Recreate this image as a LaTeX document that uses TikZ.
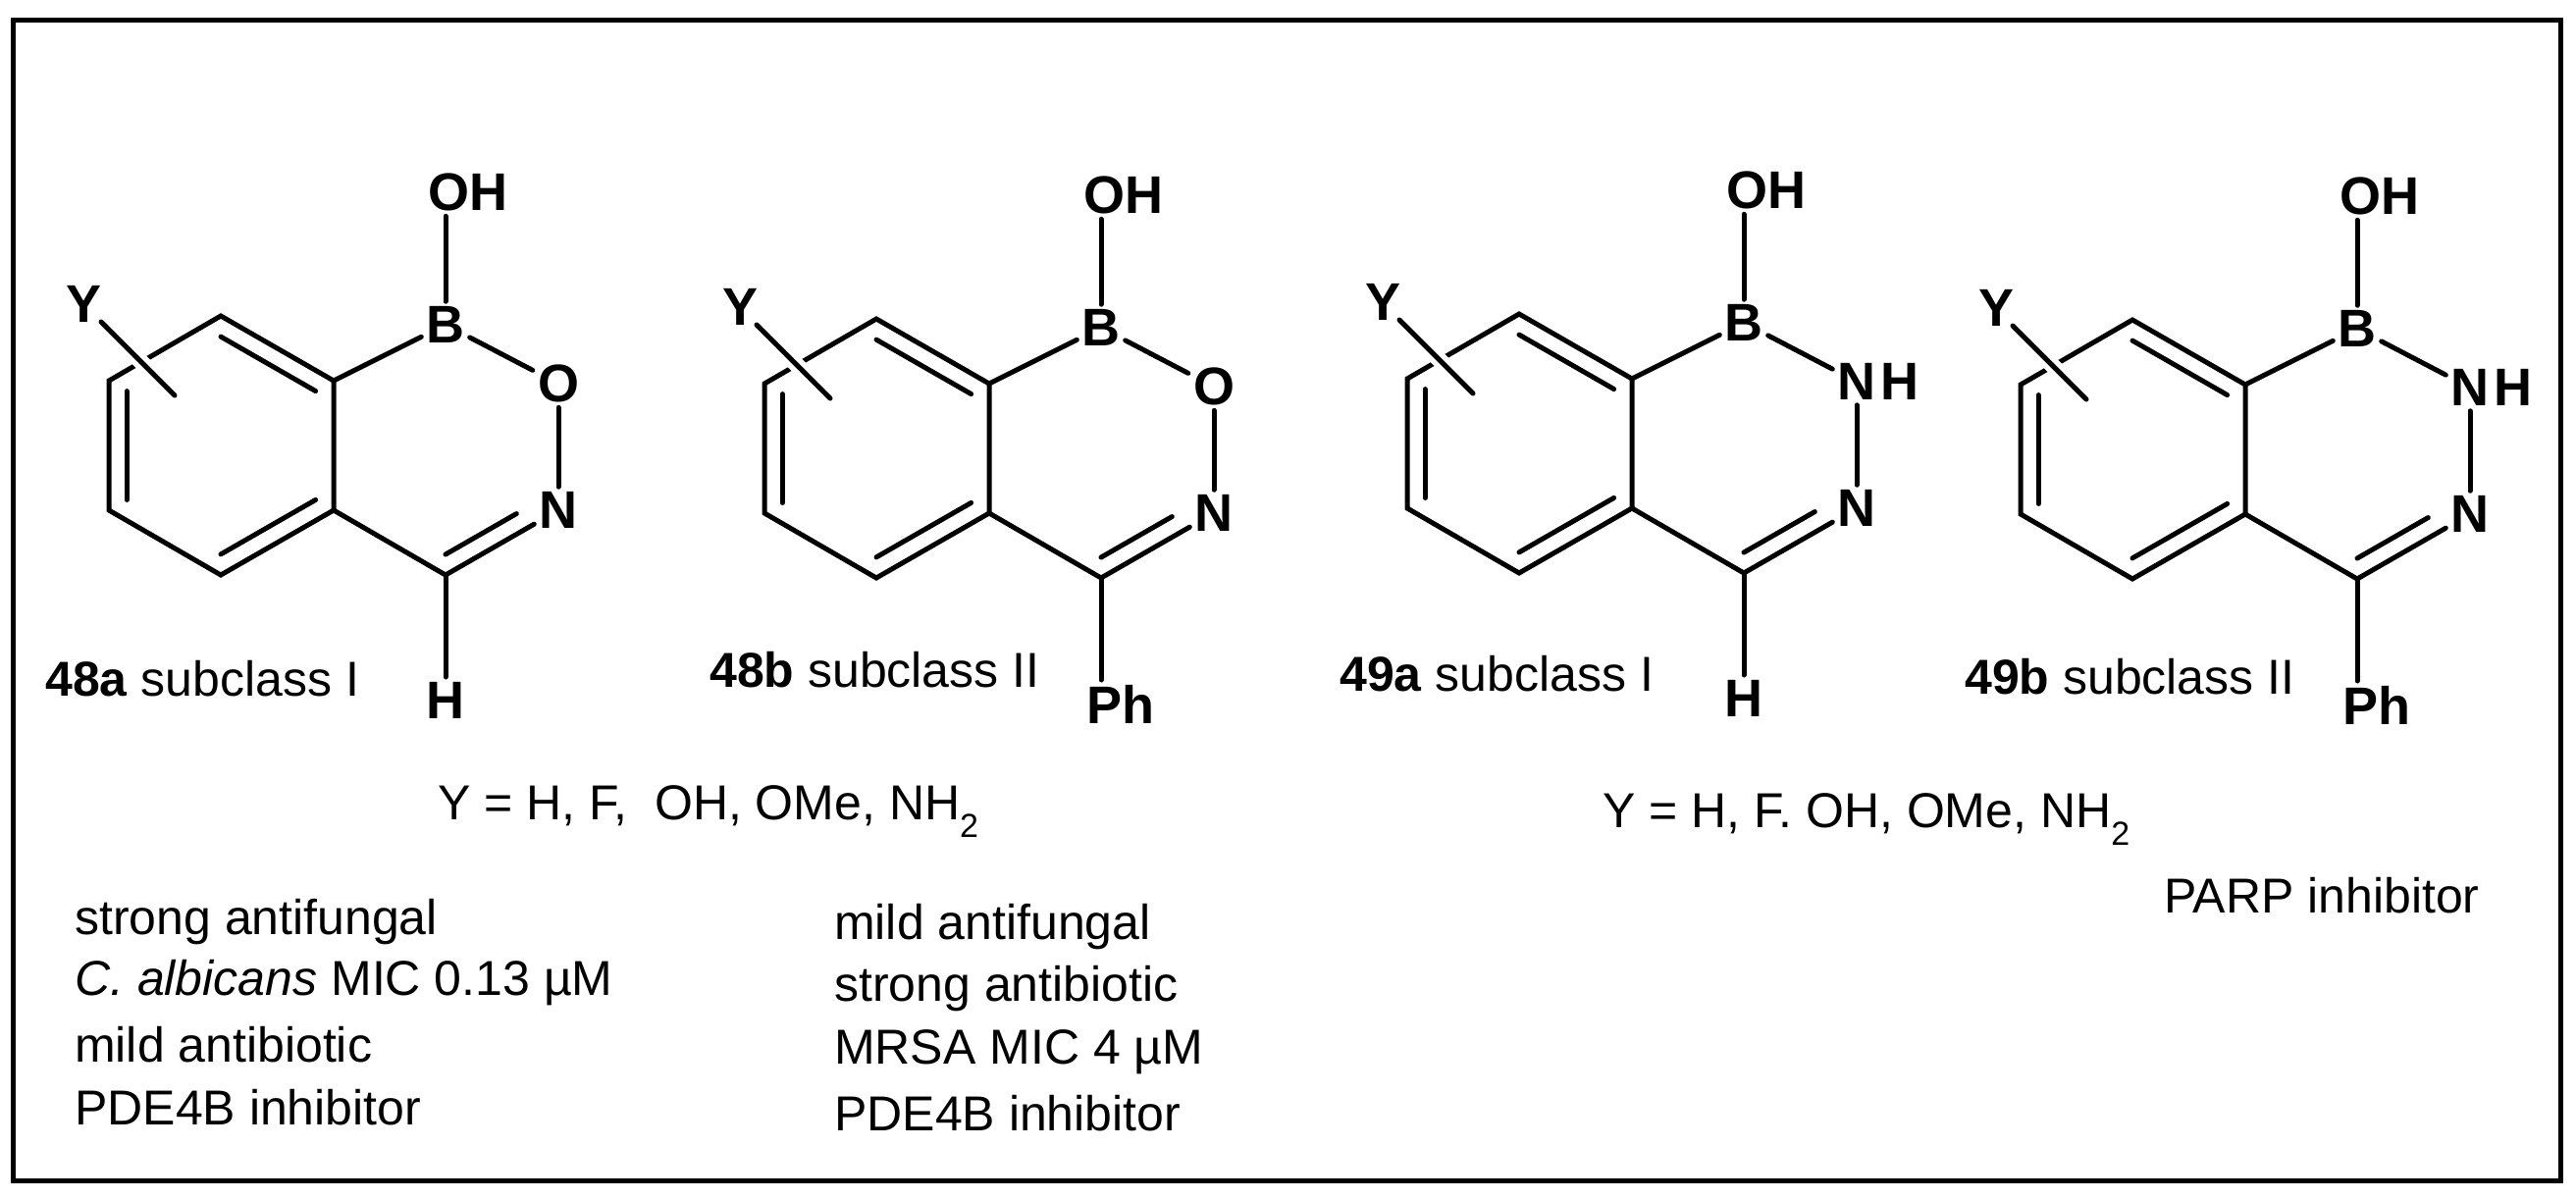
\documentclass[tikz,border=0pt]{standalone}
\usepackage{fontspec}
\setmainfont{Liberation Sans}
\usetikzlibrary{calc}
\tikzset{
  atom/.style={font=\fontsize{54}{62}\selectfont\bfseries, inner sep=5pt},
  lbl/.style={font=\fontsize{50}{60}\selectfont, anchor=west, inner sep=0pt},
  bond/.style={line width=5pt, line cap=round},
}
\newcommand\subtwo{\raisebox{-0.35em}{\fontsize{34}{40}\selectfont 2}}
\newcommand\mol[7]{%
\begin{scope}[shift={(#2,#3)}]
\coordinate (#1T) at (225,322);
\coordinate (#1FT) at (340,388);
\coordinate (#1FB) at (340,520);
\coordinate (#1Bt) at (225,586);
\coordinate (#1LB) at (111,520);
\coordinate (#1LT) at (111,388);
\coordinate (#1c) at (225,454);
\coordinate (#1h) at (454,455);
\coordinate (#1C) at (454,586);
\node[atom] (#1B) at (454,331) {B};
\node[atom] (#1OH) at (477,196) {OH};
\node[atom] (#1X) at (569,391) {#4};
\node[atom, anchor=west, inner xsep=0pt] (#1XH) at (#1X.east) {#5};
\node[atom] (#1N) at (569,520) {N};
\node[atom, anchor=north] (#1S) at (454+#6,690) {#7};
\node[atom] (#1Y) at (86,310) {Y};
\coordinate (#1y1) at (103,328);
\coordinate (#1y2) at (178,403);
\draw[bond] (#1T) -- (#1FT) -- (#1FB) -- (#1Bt) -- (#1LB) -- (#1LT) -- cycle;
\draw[bond] ($(#1c)!0.84!(#1T)$) -- ($(#1c)!0.84!(#1FT)$);
\draw[bond] ($(#1c)!0.84!(#1FB)$) -- ($(#1c)!0.84!(#1Bt)$);
\draw[bond] ($(#1c)!0.84!(#1LB)$) -- ($(#1c)!0.84!(#1LT)$);
\draw[bond] (#1FT) -- (#1B);
\draw[bond] (#1B) -- (#1X);
\draw[bond] (#1X) -- (#1N);
\draw[bond] (#1N) -- (#1C) -- (#1FB);
\draw[bond, shorten >=28pt] ($(#1h)!0.84!(#1C)$) -- ($(#1h)!0.84!(#1N)$);
\draw[bond] (#1B) -- (#1OH.south -| #1B);
\draw[bond] (#1C) -- (#1S.north -| #1C);
\draw[white, line width=16pt, shorten <=40pt, shorten >=40pt] (#1y1) -- (#1y2);
\draw[bond] (#1y1) -- (#1y2);
\end{scope}}
\begin{document}
\begin{tikzpicture}[x=1pt,y=-1pt]
\useasboundingbox (0,0) rectangle (2625,1221);
\draw[line width=5pt] (13,20) rectangle (2609,1203);
\mol{a}{0}{0}{O}{}{0}{H}
\mol{b}{668}{3}{O}{}{20}{Ph}
\mol{c}{1323}{-2}{N}{H}{0}{H}
\mol{d}{1948}{4}{N}{H}{20}{Ph}
\node[lbl] (la) at (46,692) {\textbf{48a} subclass I};
\node[lbl] (lb) at (723,683) {\textbf{48b} subclass II};
\node[lbl] (lc) at (1365,687) {\textbf{49a} subclass I};
\node[lbl] (ld) at (2002,690) {\textbf{49b} subclass II};
\node[lbl] (y1) at (446,827) {Y = H, F, \ OH, OMe, NH\subtwo};
\node[lbl] (y2) at (1633,835) {Y = H, F. OH, OMe, NH\subtwo};
\node[lbl] (parp) at (2205,913) {PARP inhibitor};
\node[lbl] (t1) at (76,940) {strong antifungal};
\node[lbl] (t2) at (76,1002) {\textit{C. albicans} MIC 0.13 µM};
\node[lbl] (t3) at (76,1065) {mild antibiotic};
\node[lbl] (t4) at (76,1129) {PDE4B inhibitor};
\node[lbl] (u1) at (850,945) {mild antifungal};
\node[lbl] (u2) at (850,1008) {strong antibiotic};
\node[lbl] (u3) at (850,1072) {MRSA MIC 4 µM};
\node[lbl] (u4) at (850,1135) {PDE4B inhibitor};
\end{tikzpicture}
\end{document}
